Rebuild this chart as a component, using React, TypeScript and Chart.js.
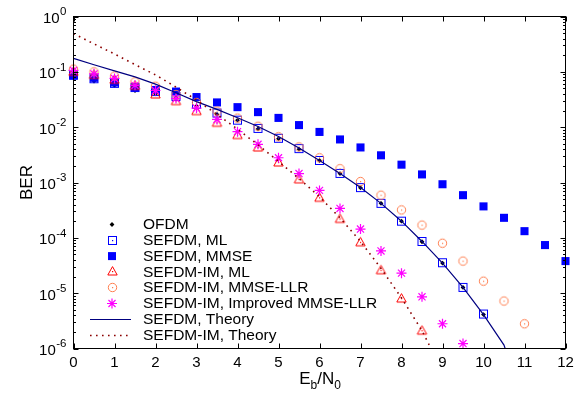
import React, { useEffect, useRef } from 'react';
import { Chart, registerables } from 'chart.js';

Chart.register(...registerables);

// ---- data ----
const EBN0 = [0, 0.5, 1, 1.5, 2, 2.5, 3, 3.5, 4, 4.5, 5, 5.5, 6, 6.5, 7, 7.5, 8, 8.5, 9, 9.5, 10, 10.5, 11, 11.5, 12];

const OFDM = [0.078, 0.068, 0.057, 0.046, 0.040, 0.034, 0.024, 0.017, 0.0134, 0.0093, 0.0062, 0.0040, 0.0025, 0.00145, 0.0008, 0.00042, 0.0002, 8.5e-5, 3.5e-5, 1.27e-5, 4.1e-6];
const SEFDM_ML = [0.087, 0.075, 0.062, 0.052, 0.044, 0.036, 0.026, 0.018, 0.0134, 0.0095, 0.0063, 0.0041, 0.0025, 0.00146, 0.00081, 0.00042, 0.0002, 8.6e-5, 3.55e-5, 1.27e-5, 4.2e-6];
const SEFDM_MMSE = [0.086, 0.078, 0.064, 0.052, 0.047, 0.044, 0.035, 0.028, 0.023, 0.0187, 0.0147, 0.0109, 0.0082, 0.0060, 0.0043, 0.0031, 0.0021, 0.0014, 0.00093, 0.00059, 0.00037, 0.00023, 0.000132, 7.4e-5, 3.8e-5];
const IM_ML = [0.1, 0.088, 0.072, 0.056, 0.039, 0.0296, 0.0195, 0.012, 0.0072, 0.0043, 0.0023, 0.00114, 0.00053, 0.00022, 8.3e-5, 2.6e-5, 8e-6, 2.1e-6];
const IM_MMSE_LLR = [0.112, 0.1, 0.084, 0.066, 0.055, 0.039, 0.028, 0.0195, 0.0146, 0.0104, 0.0067, 0.0044, 0.0028, 0.00178, 0.00104, 0.00059, 0.00032, 0.00017, 8e-5, 3.8e-5, 1.65e-5, 7.2e-6, 2.8e-6];
const IM_IMPROVED = [0.106, 0.092, 0.076, 0.057, 0.046, 0.033, 0.022, 0.0138, 0.0083, 0.0049, 0.0028, 0.00145, 0.00072, 0.00034, 0.000144, 5.8e-5, 2.3e-5, 8.6e-6, 2.8e-6, 1.23e-6];

const SEFDM_THEORY_X = [0, 0.5, 1, 1.5, 2, 2.5, 3, 3.5, 4, 4.5, 5, 5.5, 6, 6.5, 7, 7.5, 8, 8.5, 9, 9.5, 10, 10.5, 10.6];
const SEFDM_THEORY = [0.175, 0.134, 0.104, 0.081, 0.060, 0.042, 0.029, 0.021, 0.0148, 0.0103, 0.0068, 0.0042, 0.0025, 0.00145, 0.00081, 0.00042, 0.0002, 8.6e-5, 3.5e-5, 1.27e-5, 4.1e-6, 1.15e-6, 7e-7];
const IM_THEORY_X = [0, 0.5, 1, 1.5, 2, 2.5, 3, 3.5, 4, 4.5, 5, 5.5, 6, 6.5, 7, 7.5, 8, 8.5, 8.75];
const IM_THEORY = [0.49, 0.32, 0.21, 0.135, 0.088, 0.053, 0.031, 0.017, 0.0092, 0.0048, 0.0024, 0.00118, 0.00055, 0.00023, 8.6e-5, 2.8e-5, 8.2e-6, 2.1e-6, 9e-7];

const X_TICKS = [0, 1, 2, 3, 4, 5, 6, 7, 8, 9, 10, 11, 12];
const Y_EXPONENTS = [0, -1, -2, -3, -4, -5, -6];

const LABELS = [
  'OFDM',
  'SEFDM, ML',
  'SEFDM, MMSE',
  'SEFDM-IM, ML',
  'SEFDM-IM, MMSE-LLR',
  'SEFDM-IM, Improved MMSE-LLR',
  'SEFDM, Theory',
  'SEFDM-IM, Theory',
];

const FONT = '"Liberation Sans", Arial, Helvetica, sans-serif';

function pts(xs: number[], ys: number[]) {
  return ys.map((v, i) => ({ x: xs[i], y: v }));
}

function makeMarker(kind: string, color: string): HTMLCanvasElement {
  const c = document.createElement('canvas');
  c.width = 13;
  c.height = 13;
  const g = c.getContext('2d')!;
  g.strokeStyle = color;
  g.fillStyle = color;
  g.lineWidth = 1;
  if (kind === 'square') {
    g.strokeRect(2.5, 2.5, 8, 8);
  } else if (kind === 'circle') {
    g.beginPath();
    g.arc(6.5, 6.5, 4.2, 0, Math.PI * 2);
    g.stroke();
  } else if (kind === 'triangle') {
    g.beginPath();
    g.moveTo(6.5, 1.6);
    g.lineTo(1.8, 10);
    g.lineTo(11.2, 10);
    g.closePath();
    g.stroke();
  }
  g.fillRect(6, 6, 1.2, 1.2);
  return c;
}

export default function App() {
  const ref = useRef<HTMLCanvasElement | null>(null);

  useEffect(() => {
    const canvas = ref.current;
    if (!canvas) return;
    const sq = makeMarker('square', '#0000ff');
    const tri = makeMarker('triangle', '#ff0000');
    const circ = makeMarker('circle', '#ff7f50');

    const markerDefs = [
      { type: 'diamond', color: '#000000' },
      { type: 'img', img: sq },
      { type: 'filled', color: '#0000ff' },
      { type: 'img', img: tri },
      { type: 'img', img: circ },
      { type: 'star', color: '#ff00ff' },
      { type: 'solid', color: '#000080' },
      { type: 'dotted', color: '#8b0000' },
    ];

    const overlay = {
      id: 'overlay',
      afterDraw(chart: any) {
        const ctx = chart.ctx as CanvasRenderingContext2D;
        const { left, right, top, bottom } = chart.chartArea;
        const xs = chart.scales.x;
        const ys = chart.scales.y;
        ctx.save();
        ctx.strokeStyle = '#000';
        ctx.fillStyle = '#000';
        ctx.lineWidth = 1;
        // frame
        ctx.strokeRect(left, top, right - left, bottom - top);
        // x ticks
        ctx.beginPath();
        X_TICKS.forEach((t) => {
          const px = Math.round(xs.getPixelForValue(t)) + 0.5;
          ctx.moveTo(px, bottom);
          ctx.lineTo(px, bottom - 5);
          ctx.moveTo(px, top);
          ctx.lineTo(px, top + 5);
        });
        // y ticks
        Y_EXPONENTS.forEach((e) => {
          const py = Math.round(ys.getPixelForValue(Math.pow(10, e))) + 0.5;
          ctx.moveTo(left, py);
          ctx.lineTo(left + 5, py);
          ctx.moveTo(right, py);
          ctx.lineTo(right - 5, py);
          if (e > -6) {
            for (let m = 2; m <= 9; m++) {
              const v = m * Math.pow(10, e - 1);
              const pm = Math.round(ys.getPixelForValue(v)) + 0.5;
              ctx.moveTo(left, pm);
              ctx.lineTo(left + 2.5, pm);
              ctx.moveTo(right, pm);
              ctx.lineTo(right - 2.5, pm);
            }
          }
        });
        ctx.stroke();

        // x tick labels
        ctx.font = `15px ${FONT}`;
        ctx.textAlign = 'center';
        ctx.textBaseline = 'alphabetic';
        X_TICKS.forEach((t) => {
          ctx.fillText(String(t), xs.getPixelForValue(t), 366.5);
        });
        // y tick labels 10^e
        Y_EXPONENTS.forEach((e) => {
          const py = ys.getPixelForValue(Math.pow(10, e));
          const exp = String(e);
          ctx.font = `15px ${FONT}`;
          const wb = ctx.measureText('10').width;
          ctx.font = `11.5px ${FONT}`;
          const we = ctx.measureText(exp).width;
          const x0 = 66.5 - wb - we - 0.5;
          ctx.textAlign = 'left';
          ctx.textBaseline = 'middle';
          ctx.font = `15px ${FONT}`;
          ctx.fillText('10', x0, py + 2.5);
          ctx.font = `11.5px ${FONT}`;
          ctx.fillText(exp, x0 + wb + 0.5, py - 4.5);
        });

        // axis titles
        ctx.textBaseline = 'alphabetic';
        ctx.textAlign = 'left';
        const big = `17px ${FONT}`;
        const small = `12px ${FONT}`;
        const parts = [
          { t: 'E', f: big, dy: 0 },
          { t: 'b', f: small, dy: 5 },
          { t: '/N', f: big, dy: 0 },
          { t: '0', f: small, dy: 5 },
        ];
        let tw = 0;
        parts.forEach((p) => {
          ctx.font = p.f;
          tw += ctx.measureText(p.t).width;
        });
        let cx = 320 - tw / 2;
        parts.forEach((p) => {
          ctx.font = p.f;
          ctx.fillText(p.t, cx, 384 + p.dy);
          cx += ctx.measureText(p.t).width;
        });
        ctx.save();
        ctx.translate(32, (top + bottom) / 2);
        ctx.rotate(-Math.PI / 2);
        ctx.font = big;
        ctx.textAlign = 'center';
        ctx.fillText('BER', 0, 0);
        ctx.restore();

        // legend
        const lx = 112;
        const tx = 143;
        const y0 = 224.5;
        const step = 15.8;
        ctx.font = `15.5px ${FONT}`;
        ctx.textAlign = 'left';
        ctx.textBaseline = 'middle';
        chart.data.datasets.forEach((ds: any, i: number) => {
          const yy = y0 + i * step;
          const md = markerDefs[i] as any;
          ctx.save();
          if (md.type === 'img') {
            ctx.drawImage(md.img, Math.round(lx - 6.5), Math.round(yy - 6.5));
          } else if (md.type === 'filled') {
            ctx.fillStyle = md.color;
            ctx.fillRect(lx - 4, yy - 4, 8, 8);
          } else if (md.type === 'diamond') {
            ctx.fillStyle = md.color;
            ctx.beginPath();
            ctx.moveTo(lx, yy - 2.4);
            ctx.lineTo(lx + 2.4, yy);
            ctx.lineTo(lx, yy + 2.4);
            ctx.lineTo(lx - 2.4, yy);
            ctx.closePath();
            ctx.fill();
          } else if (md.type === 'star') {
            ctx.strokeStyle = md.color;
            ctx.lineWidth = 1.2;
            ctx.beginPath();
            const r = 5;
            for (let k = 0; k < 4; k++) {
              const a = (k * Math.PI) / 4;
              ctx.moveTo(lx + r * Math.cos(a), yy + r * Math.sin(a));
              ctx.lineTo(lx - r * Math.cos(a), yy - r * Math.sin(a));
            }
            ctx.stroke();
          } else if (md.type === 'solid' || md.type === 'dotted') {
            ctx.strokeStyle = md.color;
            ctx.lineWidth = md.type === 'solid' ? 1.2 : 1.6;
            if (md.type === 'dotted') ctx.setLineDash([1.6, 4.4]);
            ctx.beginPath();
            ctx.moveTo(90, Math.round(yy) + 0.5);
            ctx.lineTo(131, Math.round(yy) + 0.5);
            ctx.stroke();
          }
          ctx.restore();
          ctx.fillStyle = '#000';
          ctx.fillText(ds.label, tx, yy + 0.5);
        });
        ctx.restore();
      },
    };

    const chart = new Chart(canvas, {
      type: 'scatter',
      data: {
        datasets: [
          {
            label: LABELS[0],
            data: pts(EBN0, OFDM),
            pointStyle: 'rectRot',
            pointRadius: 2.4,
            backgroundColor: '#000000',
            borderWidth: 0,
            showLine: false,
            clip: false,
            order: 8,
          },
          {
            label: LABELS[1],
            data: pts(EBN0, SEFDM_ML),
            pointStyle: sq,
            pointRadius: 5,
            showLine: false,
            clip: false,
            order: 7,
          },
          {
            label: LABELS[2],
            data: pts(EBN0, SEFDM_MMSE),
            pointStyle: 'rect',
            pointRadius: 5.7,
            backgroundColor: '#0000ff',
            borderColor: '#0000ff',
            borderWidth: 0,
            showLine: false,
            clip: false,
            order: 6,
          },
          {
            label: LABELS[3],
            data: pts(EBN0, IM_ML),
            pointStyle: tri,
            pointRadius: 5,
            showLine: false,
            clip: false,
            order: 5,
          },
          {
            label: LABELS[4],
            data: pts(EBN0, IM_MMSE_LLR),
            pointStyle: circ,
            pointRadius: 5,
            showLine: false,
            clip: false,
            order: 4,
          },
          {
            label: LABELS[5],
            data: pts(EBN0, IM_IMPROVED),
            pointStyle: 'star',
            pointRadius: 5,
            borderColor: '#ff00ff',
            backgroundColor: '#ff00ff',
            borderWidth: 1.2,
            showLine: false,
            clip: false,
            order: 3,
          },
          {
            label: LABELS[6],
            data: pts(SEFDM_THEORY_X, SEFDM_THEORY),
            showLine: true,
            borderColor: '#000080',
            borderWidth: 1.2,
            pointRadius: 0,
            fill: false,
            order: 2,
          },
          {
            label: LABELS[7],
            data: pts(IM_THEORY_X, IM_THEORY),
            showLine: true,
            borderColor: '#8b0000',
            borderWidth: 1.6,
            borderDash: [1.6, 4.4],
            pointRadius: 0,
            fill: false,
            order: 1,
          },
        ] as any,
      },
      options: {
        animation: false,
        responsive: false,
        devicePixelRatio: 1,
        events: [],
        layout: { padding: { left: 73.5, right: 18.5, top: 16.5, bottom: 46.5 } },
        plugins: {
          legend: { display: false },
          tooltip: { enabled: false },
          title: { display: false },
        },
        scales: {
          x: { type: 'linear', min: 0, max: 12, display: false },
          y: { type: 'logarithmic', min: 1e-6, max: 1, display: false },
        },
      } as any,
      plugins: [overlay],
    });
    return () => chart.destroy();
  }, []);

  return (
    <div style={{ position: 'absolute', left: 0, top: 0, width: 584, height: 395, background: '#fff' }}>
      <canvas ref={ref} width={584} height={395} style={{ display: 'block', width: 584, height: 395 }} />
    </div>
  );
}
